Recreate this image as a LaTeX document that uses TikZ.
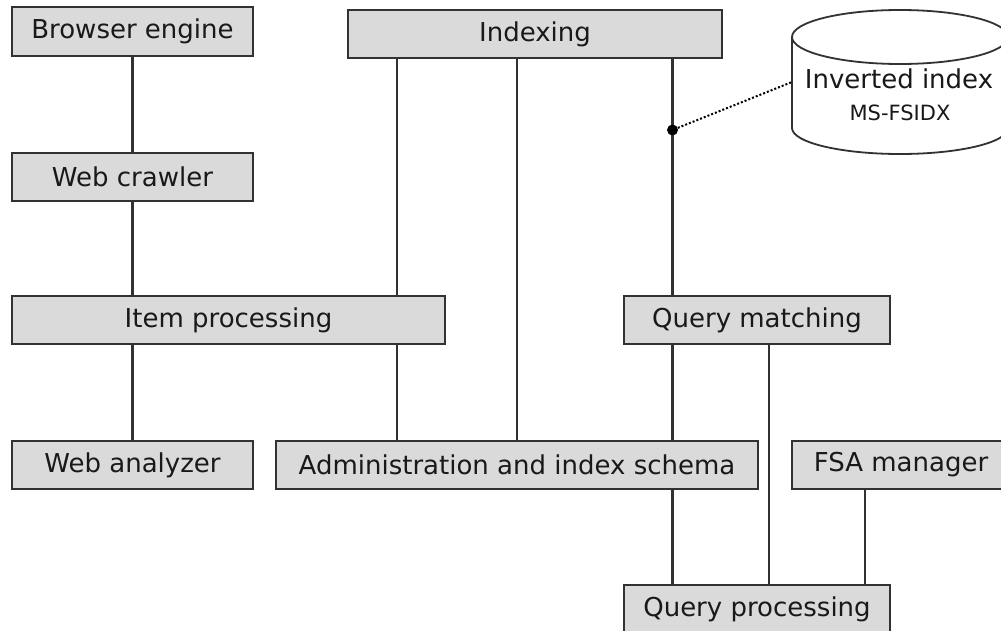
\documentclass[tikz,border=0pt]{standalone}
\usepackage{fontspec}
\setmainfont{DejaVu Sans}
\definecolor{boxfill}{RGB}{218,218,218}
\definecolor{edge}{RGB}{50,50,50}
\definecolor{ink}{RGB}{25,25,25}
\tikzset{
  comp/.style={draw=edge, line width=2pt, fill=boxfill, text=ink,
    inner sep=0pt, font=\fontsize{26}{30}\selectfont, anchor=center},
  link/.style={draw=edge, line width=2.2pt},
  dotlink/.style={draw=black, line width=2pt, dash pattern=on 2pt off 2pt},
  tapdot/.style={circle, fill=black, inner sep=0pt, minimum size=11pt},
  dbtext/.style={text=ink, inner sep=0pt, anchor=center}
}
\begin{document}
\begin{tikzpicture}[x=1pt,y=-1pt]
\useasboundingbox (0,0) rectangle (1001,631);
\fill[white] (0,0) rectangle (1001,631);

% components
\node[comp, minimum width=241pt, minimum height=49pt] (browser) at (132.5,31.5) {Browser engine};
\node[comp, minimum width=241pt, minimum height=48pt] (crawler) at (132.5,177) {Web crawler};
\node[comp, minimum width=374pt, minimum height=48pt] (indexing) at (535,34) {Indexing};
\node[comp, minimum width=433pt, minimum height=48pt] (item) at (228.5,320) {Item processing};
\node[comp, minimum width=266pt, minimum height=48pt] (qmatch) at (757,320) {Query matching};
\node[comp, minimum width=241pt, minimum height=48pt] (analyzer) at (132.5,465) {Web analyzer};
\node[comp, minimum width=482pt, minimum height=48pt] (admin) at (517,465) {Administration and index schema};
\node[comp, minimum width=218pt, minimum height=48pt] (fsa) at (901,465) {FSA manager};
\node[comp, minimum width=266pt, minimum height=48pt] (qproc) at (757,609) {Query processing};

% inverted index store
\begin{scope}[draw=edge, line width=1.8pt]
  \draw[fill=white] (792,37) -- (792,128) arc[start angle=180, end angle=0, x radius=108, y radius=26]
    -- (1008,37);
  \draw[fill=white] (900,37) ellipse[x radius=108, y radius=27];
\end{scope}
\coordinate (dbwest) at (792,82);
\node[dbtext, font=\fontsize{26}{30}\selectfont] (dbname) at (899,79) {Inverted index};
\node[dbtext, font=\fontsize{21}{25}\selectfont] (dbsub) at (900,113) {MS-FSIDX};

% vertical columns used by the connectors
\coordinate (cA) at (397,0);
\coordinate (cB) at (517,0);
\coordinate (cC) at (672.5,0);
\coordinate (cD) at (769,0);
\coordinate (cE) at (865,0);

% connectors
\draw[link] (browser.south) -- (crawler.north);
\draw[link] (crawler.south) -- (item.north -| crawler.south);
\draw[link] (item.south -| analyzer.north) -- (analyzer.north);
\draw[link] (indexing.south -| cA) -- (item.north -| cA);
\draw[link] (item.south -| cA) -- (admin.north -| cA);
\draw[link] (indexing.south -| cB) -- (admin.north -| cB);
\draw[link] (indexing.south -| cC) -- (qmatch.north -| cC);
\draw[link] (qmatch.south -| cC) -- (admin.north -| cC);
\draw[link] (admin.south -| cC) -- (qproc.north -| cC);
\draw[link] (qmatch.south -| cD) -- (qproc.north -| cD);
\draw[link] (fsa.south -| cE) -- (qproc.north -| cE);

% tap into the index store
\node[tapdot] (tap) at (672.5,130) {};
\draw[dotlink] (tap) -- (dbwest);
\end{tikzpicture}
\end{document}
